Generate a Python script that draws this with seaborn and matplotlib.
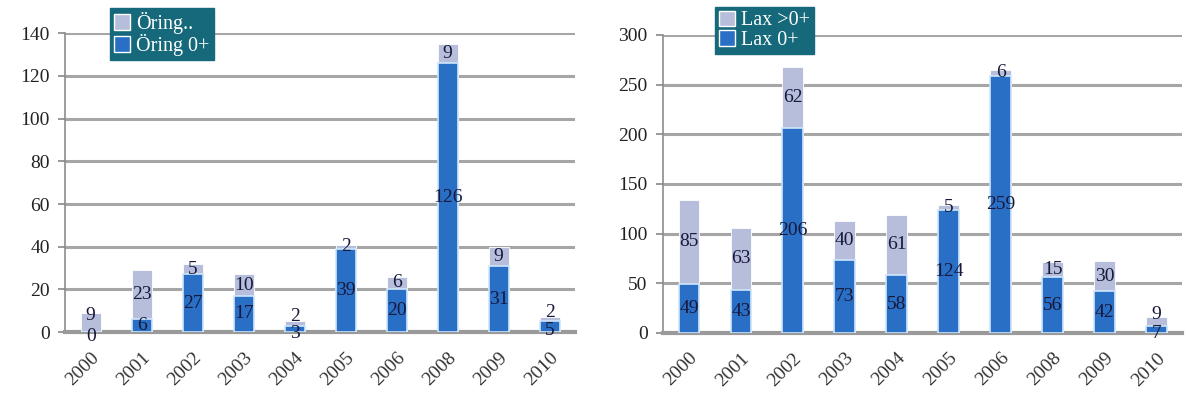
import matplotlib
matplotlib.use("Agg")
import matplotlib.pyplot as plt
import seaborn as sns
import numpy as np
from matplotlib.patches import Patch

years = ["2000", "2001", "2002", "2003", "2004", "2005", "2006", "2008", "2009", "2010"]
oring_0 = [0, 6, 27, 17, 3, 39, 20, 126, 31, 5]
oring_old = [9, 23, 5, 10, 2, 2, 6, 9, 9, 2]
lax_0 = [49, 43, 206, 73, 58, 124, 259, 56, 42, 7]
lax_old = [85, 63, 62, 40, 61, 5, 6, 15, 30, 9]

sns.set_theme(style="white")
plt.rcParams['font.family'] = ['Liberation Serif', 'DejaVu Serif']

BLUE = "#2a6fc6"
LIGHT = "#b6bedb"
TEAL = "#16697b"
GRID = "#a6a6a6"
TXT = "#17183a"

fig = plt.figure(figsize=(11.86, 4.05), dpi=100)
ax1 = fig.add_axes([0.055, 0.18, 0.43, 0.738])
ax2 = fig.add_axes([0.559, 0.178, 0.438, 0.736])


def draw(ax, zero, old, ymax, step, legend_labels, leg_anchor):
    total = [a + b for a, b in zip(zero, old)]
    sns.barplot(x=years, y=total, color=LIGHT, width=0.4, ax=ax, saturation=1,
                edgecolor="white", linewidth=0.6, zorder=3)
    sns.barplot(x=years, y=zero, color=BLUE, width=0.4, ax=ax, saturation=1,
                edgecolor="#cfe6fb", linewidth=1.2, zorder=4)
    ax.set_ylim(0, ymax)
    ax.set_xlim(-0.5, len(years) - 0.5)
    ax.set_yticks(np.arange(0, ymax + 1, step))
    ax.yaxis.grid(True, color=GRID, linewidth=2.2, zorder=0)
    ax.set_axisbelow(True)
    for s in ["top", "right"]:
        ax.spines[s].set_visible(False)
    ax.spines["left"].set_color("#8c8c8c")
    ax.spines["bottom"].set_color("#9a9a9a")
    ax.spines["bottom"].set_linewidth(3)
    ax.spines["left"].set_linewidth(1.2)
    ax.tick_params(axis="y", labelsize=14, colors="#222222", length=5, color="#8c8c8c", left=True, pad=6)
    ax.tick_params(axis="x", labelsize=14, colors="#333333", length=0, pad=12)
    for lbl in ax.get_xticklabels():
        lbl.set_rotation(45)
        lbl.set_ha("right")
        lbl.set_rotation_mode("anchor")
    ax.set_xlabel("")
    ax.set_ylabel("")
    small = ymax * 0.075
    for i, (z, o) in enumerate(zip(zero, old)):
        close = (z + o) < small
        dz = -3 if close else 0
        do = 5 if close else 0
        ax.annotate(str(z), (i, z / 2), xytext=(0, dz), textcoords="offset points",
                    ha="center", va="center", fontsize=14, color=TXT, zorder=6)
        ax.annotate(str(o), (i, z + o / 2), xytext=(0, do), textcoords="offset points",
                    ha="center", va="center", fontsize=14, color=TXT, zorder=6)
    handles = [Patch(facecolor=LIGHT, edgecolor="white"), Patch(facecolor=BLUE, edgecolor="white")]
    leg = ax.legend(handles, legend_labels, loc="upper left", bbox_to_anchor=leg_anchor,
                    frameon=True, fancybox=False, fontsize=14.5, handlelength=0.8,
                    handleheight=0.8, handletextpad=0.3, borderpad=0.2, labelspacing=0.0,
                    borderaxespad=0)
    leg.get_frame().set_facecolor(TEAL)
    leg.get_frame().set_edgecolor(TEAL)
    leg.get_frame().set_alpha(1)
    for t in leg.get_texts():
        t.set_color("white")
    leg.set_zorder(10)


draw(ax1, oring_0, oring_old, 140, 20, ["Öring..", "Öring 0+"], (0.088, 1.085))
draw(ax2, lax_0, lax_old, 300, 50, ["Lax >0+", "Lax 0+"], (0.10, 1.095))

fig.savefig("out.png", dpi=100)
